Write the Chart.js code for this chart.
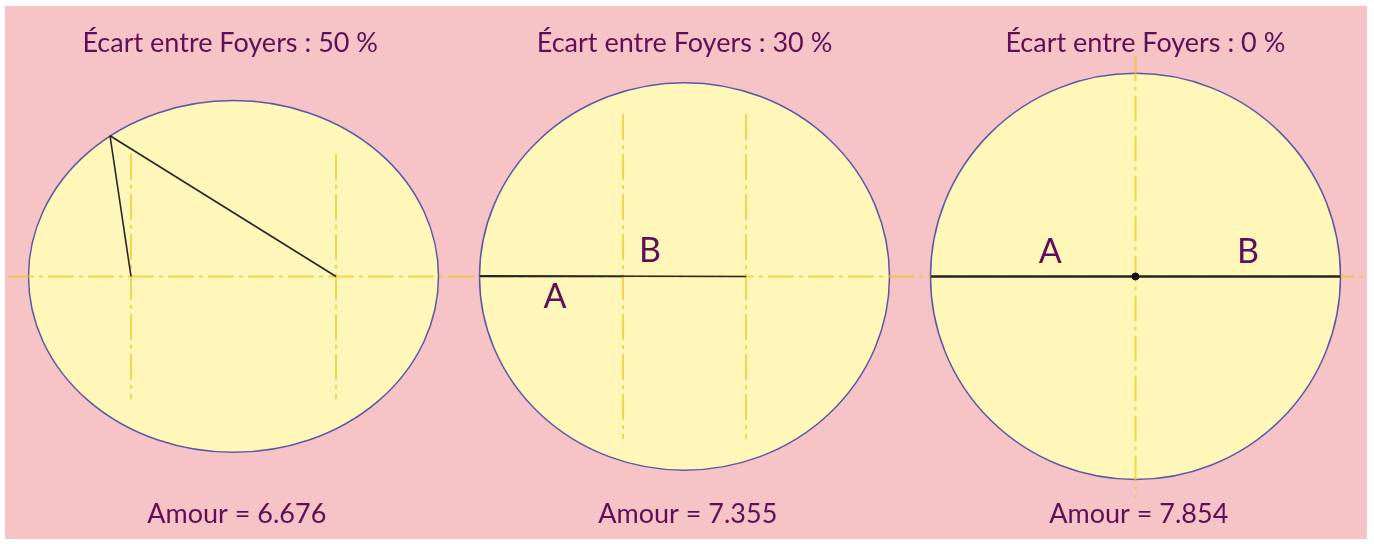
<!DOCTYPE html>
<html>
<head>
<meta charset="utf-8">
<script src="https://cdn.jsdelivr.net/npm/chart.js@4/dist/chart.umd.min.js"></script>
<style>
  body { margin: 0; background: #fff; }
  #wrap { width: 1374px; height: 544px; position: relative; }
</style>
</head>
<body>
<div id="wrap"><canvas id="myChart"></canvas></div>
<script>
// data: three ellipses sharing the same major axis, different focal spacing
const panelCenters = [0, 2.75, 5.5];
const focusSpacing = [50, 30, 0];           // percent of semi-major axis
const semiMajor = [1.25, 1.25, 1.25];
const semiMinor = [1.0825, 1.1924, 1.25];
const guideHalf = [0.756, 1.0, 1.36];       // half length of the dashed focal guides
const titles = ['Écart entre Foyers : 50 %', 'Écart entre Foyers : 30 %', 'Écart entre Foyers : 0 %'];
const amour = [6.676, 7.355, 7.854];

// the two focal radii of each ellipse (point on the curve -> focus)
const radiusA = [[[-0.753, 0.866], [-0.625, 0]], [[1.5, 0], [2.375, 0]], [[4.25, 0], [5.5, 0]]];
const radiusB = [[[-0.753, 0.866], [0.625, 0]], [[1.5, 0.004], [3.125, 0]], [[5.5, 0], [6.75, 0]]];
const axisLine = [[-1.375, 0], [6.887, 0]];

const pink = '#f6c3c6';
const fillYellow = '#fef7b9';
const outline = '#5c58a6';
const guide = 'rgba(240,198,40,0.72)';
const ink = '#5e0f58';

const toPts = arr => arr.map(p => ({ x: p[0], y: p[1] }));

const datasets = [];
datasets.push({
  data: toPts(axisLine), showLine: true, borderColor: guide, borderWidth: 2,
  borderDash: [26, 5, 4, 5], pointRadius: 0, order: 5
});
panelCenters.forEach((cx, i) => {
  const c = focusSpacing[i] / 100 * semiMajor[i];
  const foci = c === 0 ? [cx] : [cx - c, cx + c];
  foci.forEach(fx => {
    datasets.push({
      data: [{ x: fx, y: guideHalf[i] }, { x: fx, y: -guideHalf[i] }],
      showLine: true, borderColor: guide, borderWidth: 2,
      borderDash: [26, 5, 4, 5], pointRadius: 0, order: 5
    });
  });
});
panelCenters.forEach((cx, i) => {
  const w = focusSpacing[i] === 0 ? 2.5 : 1.6;
  datasets.push({ data: toPts(radiusA[i]), showLine: true, borderColor: '#262626', borderWidth: w, pointRadius: 0, order: 1 });
  datasets.push({ data: toPts(radiusB[i]), showLine: true, borderColor: '#262626', borderWidth: w, pointRadius: 0, order: 1 });
});
datasets.push({
  data: [{ x: panelCenters[2], y: 0 }], pointRadius: 3.5, order: 0,
  pointBackgroundColor: '#111', pointBorderColor: '#111'
});

// text anchors (layout, in data units)
const titleY = 1.433;
const titleShift = [-0.02, 0, 0.06];
const amourY = -1.463;
const letterPos = [
  null,
  { A: [1.96, -0.128], B: [2.54, 0.159] },
  { A: [4.98, 0.152], B: [6.186, 0.152] }
];

const ellipsePlugin = {
  id: 'ellipses',
  beforeDraw(chart) {
    const { ctx, chartArea: a } = chart;
    ctx.save();
    ctx.fillStyle = pink;
    ctx.fillRect(a.left, a.top, a.right - a.left, a.bottom - a.top);
    ctx.restore();
  },
  beforeDatasetsDraw(chart) {
    const { ctx, scales: { x, y } } = chart;
    ctx.save();
    panelCenters.forEach((cx, i) => {
      const px = x.getPixelForValue(cx);
      const py = y.getPixelForValue(0);
      const rx = x.getPixelForValue(cx + semiMajor[i]) - px;
      const ry = py - y.getPixelForValue(semiMinor[i]);
      ctx.beginPath();
      ctx.ellipse(px, py, rx, ry, 0, 0, Math.PI * 2);
      ctx.fillStyle = fillYellow;
      ctx.fill();
      ctx.lineWidth = 1.5;
      ctx.strokeStyle = outline;
      ctx.stroke();
    });
    ctx.restore();
  },
  afterDatasetsDraw(chart) {
    const { ctx, scales: { x, y } } = chart;
    ctx.save();
    ctx.fillStyle = ink;
    ctx.textAlign = 'center';
    ctx.textBaseline = 'middle';
    panelCenters.forEach((cx, i) => {
      ctx.font = '27px Lato';
      ctx.fillText(titles[i], x.getPixelForValue(cx + titleShift[i]), y.getPixelForValue(titleY));
      ctx.font = '27px Lato';
      ctx.fillText('Amour = ' + amour[i].toFixed(3), x.getPixelForValue(cx + 0.02), y.getPixelForValue(amourY));
      const lp = letterPos[i];
      if (lp) {
        ctx.font = '34px Lato';
        ctx.fillText('A', x.getPixelForValue(lp.A[0]), y.getPixelForValue(lp.A[1]));
        ctx.fillText('B', x.getPixelForValue(lp.B[0]), y.getPixelForValue(lp.B[1]));
      }
    });
    ctx.restore();
  }
};

new Chart(document.getElementById('myChart'), {
  type: 'scatter',
  data: { datasets },
  options: {
    responsive: true,
    maintainAspectRatio: false,
    animation: false,
    layout: { padding: { left: 5, top: 6, right: 7, bottom: 0 } },
    plugins: { legend: { display: false }, tooltip: { enabled: false } },
    scales: {
      x: { type: 'linear', display: false, min: -1.3933, max: 6.9116 },
      y: { type: 'linear', display: false, min: -1.6159, max: 1.6646 }
    }
  },
  plugins: [ellipsePlugin]
});
</script>
</body>
</html>
